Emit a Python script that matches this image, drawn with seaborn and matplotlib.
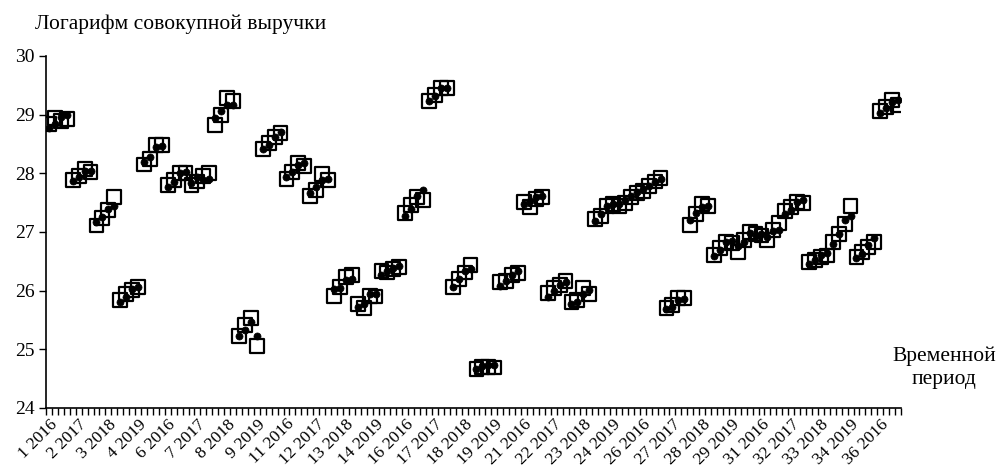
import matplotlib
matplotlib.use("Agg")
import matplotlib.pyplot as plt
import seaborn as sns
import numpy as np
import pandas as pd

# Firms 1..36, years 2016..2019
firms = list(range(1, 37))
years = [2016, 2017, 2018, 2019]

# Actual values (hollow squares), 4 per firm
actual = [
    28.84, 28.95, 28.89, 28.92,   # 1
    27.89, 27.95, 28.08, 28.03,   # 2
    27.11, 27.24, 27.38, 27.60,   # 3
    25.84, 25.94, 26.01, 26.07,   # 4
    28.15, 28.24, 28.48, 28.48,   # 5
    27.80, 27.88, 28.00, 28.01,   # 6
    27.80, 27.86, 27.95, 28.00,   # 7
    28.83, 29.00, 29.29, 29.23,   # 8
    25.22, 25.42, 25.53, 25.06,   # 9
    28.41, 28.51, 28.62, 28.68,   # 10
    27.90, 28.03, 28.17, 28.12,   # 11
    27.62, 27.71, 27.99, 27.88,   # 12
    25.91, 26.06, 26.24, 26.27,   # 13
    25.78, 25.71, 25.91, 25.90,   # 14
    26.33, 26.31, 26.37, 26.41,   # 15
    27.33, 27.46, 27.60, 27.55,   # 16
    29.24, 29.34, 29.45, 29.46,   # 17
    26.07, 26.20, 26.31, 26.44,   # 18
    24.67, 24.70, 24.70, 24.69,   # 19
    26.15, 26.17, 26.27, 26.30,   # 20
    27.51, 27.43, 27.57, 27.59,   # 21
    25.96, 26.05, 26.09, 26.16,   # 22
    25.81, 25.84, 26.04, 25.95,   # 23
    27.22, 27.28, 27.44, 27.47,   # 24
    27.44, 27.50, 27.60, 27.66,   # 25
    27.70, 27.78, 27.86, 27.92,   # 26
    25.70, 25.75, 25.87, 25.87,   # 27
    27.12, 27.30, 27.48, 27.44,   # 28
    26.61, 26.73, 26.83, 26.81,   # 29
    26.66, 26.86, 27.00, 26.96,   # 30
    26.94, 26.86, 27.03, 27.16,   # 31
    27.36, 27.43, 27.51, 27.50,   # 32
    26.49, 26.52, 26.57, 26.60,   # 33
    26.83, 26.96, 27.13, 27.45,   # 34
    26.57, 26.66, 26.74, 26.83,   # 35
    29.07, 29.13, 29.25, 29.17,   # 36
]

# Model values (small filled circles), 4 per firm
model = [
    28.78, 28.84, 28.96, 28.99,   # 1
    27.87, 27.94, 28.04, 28.04,   # 2
    27.17, 27.25, 27.40, 27.45,   # 3
    25.81, 25.90, 26.02, 26.07,   # 4
    28.19, 28.28, 28.45, 28.46,   # 5
    27.77, 27.86, 28.00, 28.03,   # 6
    27.83, 27.93, 27.89, 27.90,   # 7
    28.95, 29.06, 29.17, 29.17,   # 8
    25.23, 25.33, 25.47, 25.22,   # 9
    28.41, 28.48, 28.62, 28.70,   # 10
    27.93, 28.03, 28.14, 28.17,   # 11
    27.67, 27.76, 27.89, 27.91,   # 12
    26.03, 26.05, 26.18, 26.20,   # 13
    25.73, 25.77, 25.95, 25.95,   # 14
    26.26, 26.33, 26.39, 26.42,   # 15
    27.28, 27.39, 27.62, 27.71,   # 16
    29.24, 29.31, 29.45, 29.45,   # 17
    26.07, 26.20, 26.33, 26.37,   # 18
    24.66, 24.71, 24.74, 24.74,   # 19
    26.08, 26.17, 26.27, 26.34,   # 20
    27.48, 27.53, 27.60, 27.62,   # 21
    25.89, 26.00, 26.09, 26.15,   # 22
    25.78, 25.81, 25.95, 26.01,   # 23
    27.18, 27.30, 27.45, 27.48,   # 24
    27.47, 27.55, 27.62, 27.68,   # 25
    27.73, 27.79, 27.86, 27.91,   # 26
    25.68, 25.72, 25.84, 25.85,   # 27
    27.21, 27.32, 27.42, 27.44,   # 28
    26.59, 26.70, 26.83, 26.84,   # 29
    26.76, 26.83, 26.98, 26.94,   # 30
    26.97, 26.91, 27.02, 27.04,   # 31
    27.30, 27.38, 27.51, 27.54,   # 32
    26.45, 26.52, 26.60, 26.64,   # 33
    26.80, 26.97, 27.20, 27.28,   # 34
    26.55, 26.63, 26.77, 26.89,   # 35
    29.03, 29.12, 29.22, 29.25,   # 36
]

categories = [f"{f} {y}" for f in firms for y in years]
y_ticks = [24, 25, 26, 27, 28, 29, 30]
y_label = "Логарифм совокупной выручки"
x_label = "Временной\nпериод"

df = pd.DataFrame({"cat": categories, "pos": np.arange(len(categories)),
                   "actual": actual, "model": model})

sns.set_style("white")
plt.rcParams["font.family"] = ["Liberation Serif", "DejaVu Serif"]
plt.rcParams["text.color"] = "black"
plt.rcParams["xtick.color"] = "black"
plt.rcParams["ytick.color"] = "black"
plt.rcParams["axes.labelcolor"] = "black"

fig = plt.figure(figsize=(9.97, 4.68), dpi=100)
ax = fig.add_axes([46 / 997, 1 - 408 / 468, (901 - 46) / 997, (408 - 56) / 468])

sns.scatterplot(data=df, x="pos", y="actual", ax=ax, marker="s", s=100,
                facecolors="none", edgecolor="black", linewidth=1.6, zorder=2)
sns.scatterplot(data=df, x="pos", y="model", ax=ax, marker="o", s=26,
                color="black", edgecolor="black", linewidth=0.5, zorder=3)

n = len(categories)
ax.set_xlim(-0.5, n - 0.5)
ax.set_ylim(24, 30)
ax.set_yticks(y_ticks)
ax.set_yticklabels([str(v) for v in y_ticks], fontsize=14)

label_pos = list(range(0, n, 5))
ax.set_xticks(label_pos)
ax.set_xticklabels([categories[i] for i in label_pos], rotation=45,
                   ha="right", rotation_mode="anchor", fontsize=12.5)
ax.set_xticks(np.arange(-0.5, n, 1), minor=True)
ax.tick_params(axis="x", which="major", length=0, pad=6)
ax.tick_params(axis="x", which="minor", length=5, width=1, color="black",
               direction="out", bottom=True)
ax.tick_params(axis="y", which="major", length=5, width=1, color="black",
               direction="out", left=True, pad=3)

for s in ["top", "right"]:
    ax.spines[s].set_visible(False)
for s in ["left", "bottom"]:
    ax.spines[s].set_color("black")
    ax.spines[s].set_linewidth(1.2)
ax.set_xlabel("")
ax.set_ylabel("")

fig.text(35 / 997, 1 - 24 / 468, y_label, fontsize=15.5, ha="left", va="center")
fig.text(944 / 997, 1 - 368 / 468, x_label, fontsize=15.5, ha="center",
         va="center", linespacing=1.25)

fig.savefig("out.png", dpi=100, facecolor="white")
